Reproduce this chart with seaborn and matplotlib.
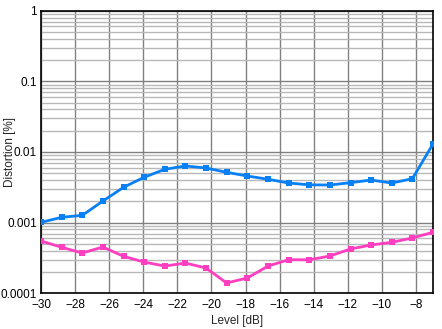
import numpy as np
import pandas as pd
import matplotlib
matplotlib.use("Agg")
import matplotlib.pyplot as plt
import seaborn as sns
from matplotlib.ticker import FixedLocator, FixedFormatter, LogLocator, NullFormatter

level_db = [-30.0, -28.79, -27.58, -26.37, -25.16, -23.95, -22.74, -21.53, -20.32, -19.11,
            -17.89, -16.68, -15.47, -14.26, -13.05, -11.84, -10.63, -9.42, -8.21, -7.0]
blue_vals = [0.00101, 0.00119, 0.00127, 0.00202, 0.00316, 0.00439, 0.00569, 0.00634, 0.00594, 0.00516,
             0.00457, 0.00411, 0.00364, 0.00343, 0.00341, 0.00368, 0.00401, 0.00364, 0.00419, 0.0130]
pink_vals = [0.000550, 0.000448, 0.000372, 0.000452, 0.000334, 0.000277, 0.000243, 0.000268, 0.000228, 0.000140,
             0.000165, 0.000243, 0.000299, 0.000298, 0.000337, 0.000424, 0.000483, 0.000527, 0.000607, 0.000730]
x_ticks = [-30, -28, -26, -24, -22, -20, -18, -16, -14, -12, -10, -8]
y_ticks = [0.0001, 0.001, 0.01, 0.1, 1]
y_tick_labels = ["0.0001", "0.001", "0.01", "0.1", "1"]

sns.set_style("white")
plt.rcParams['font.family'] = ['Liberation Sans', 'DejaVu Sans']
plt.rcParams['font.size'] = 8.5

df = pd.DataFrame({"level": level_db, "blue": blue_vals, "pink": pink_vals})

fig = plt.figure(figsize=(4.42, 3.29), dpi=100)
ax = fig.add_axes([0.0928, 0.1085, 0.8868, 0.859])

sns.lineplot(data=df, x="level", y="blue", ax=ax, color="#0A80F5", linewidth=2,
             marker="s", markersize=5, markeredgewidth=0, zorder=5)
sns.lineplot(data=df, x="level", y="pink", ax=ax, color="#FF3EC0", linewidth=2,
             marker="s", markersize=5, markeredgewidth=0, zorder=5)

ax.set_yscale("log")
ax.set_xlim(-30, -7)
ax.set_ylim(0.0001, 1)

ax.xaxis.set_major_locator(FixedLocator(x_ticks))
ax.yaxis.set_major_locator(FixedLocator(y_ticks))
ax.yaxis.set_major_formatter(FixedFormatter(y_tick_labels))
ax.yaxis.set_minor_locator(LogLocator(base=10, subs=np.arange(2, 10), numticks=20))
ax.yaxis.set_minor_formatter(NullFormatter())

ax.grid(True, which="major", axis="both", color="#808080", linewidth=1.0)
ax.grid(True, which="minor", axis="y", color="#B8B8B8", linewidth=1.0)
ax.set_axisbelow(True)

ax.tick_params(axis="both", which="both", length=0, labelsize=8.5, colors="black")
ax.tick_params(axis="x", pad=4)
ax.tick_params(axis="y", pad=3)

for s in ax.spines.values():
    s.set_visible(True)
    s.set_color("black")
    s.set_linewidth(1.2)

ax.set_xlabel("Level [dB]", fontsize=8.5, labelpad=3)
ax.set_ylabel("Distortion [%]", fontsize=8.5)
ax.yaxis.set_label_coords(-0.064, 0.5)

fig.savefig("out.png", dpi=100, facecolor="white")
